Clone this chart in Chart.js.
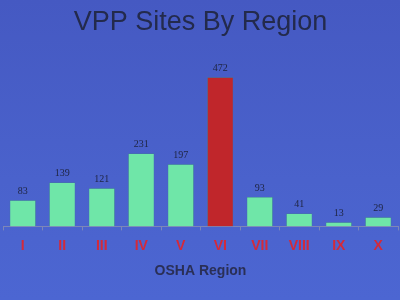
<!DOCTYPE html>
<html>
<head>
<meta charset="utf-8">
<script src="https://cdn.jsdelivr.net/npm/chart.js@4/dist/chart.umd.min.js"></script>
<style>
  html, body { margin: 0; padding: 0; }
  body { width: 400px; height: 300px; background: linear-gradient(180deg, #4559c2 0%, #4a62cc 60%, #4c66d2 100%); }
  #wrap { width: 400px; height: 300px; }
</style>
</head>
<body>
<div id="wrap"><canvas id="vpp-chart"></canvas></div>
<script>
// OSHA regions and VPP site counts
const regions = ['I', 'II', 'III', 'IV', 'V', 'VI', 'VII', 'VIII', 'IX', 'X'];
const sites = [83, 139, 121, 231, 197, 472, 93, 41, 13, 29];
const highlightRegion = 'VI';

const barColors = regions.map(r => r === highlightRegion ? '#c0262b' : '#6fe6a8');
const ctx = document.getElementById('vpp-chart');

// draws the value above each bar
const valueLabels = {
    id: 'valueLabels',
    afterDatasetsDraw(chart) {
        const c = chart.ctx;
        const meta = chart.getDatasetMeta(0);
        c.save();
        c.font = '10px "Liberation Serif", serif';
        c.fillStyle = '#1e2440';
        c.textAlign = 'center';
        c.textBaseline = 'bottom';
        meta.data.forEach((bar, i) => {
            c.fillText(sites[i], bar.x, bar.y - 4);
        });
        c.restore();
    }
};

new Chart(ctx, {
    type: 'bar',
    data: {
        labels: regions,
        datasets: [{
            label: 'VPP Sites',
            data: sites,
            backgroundColor: barColors,
            borderColor: '#3c8f70',
            borderWidth: 0.5,
            barPercentage: 0.66,
            categoryPercentage: 1
        }]
    },
    options: {
        responsive: true,
        maintainAspectRatio: false,
        animation: false,
        layout: { padding: { left: 3, right: 2, top: 0, bottom: 16 } },
        plugins: {
            legend: { display: false },
            tooltip: { enabled: false },
            title: {
                display: true,
                text: 'VPP Sites By Region',
                color: '#232a4c',
                font: { family: '"Liberation Sans", Arial, sans-serif', size: 27, weight: 'normal' },
                padding: { top: 6, bottom: 30 }
            }
        },
        scales: {
            y: {
                display: false,
                min: 0,
                max: 500
            },
            x: {
                border: { display: true, color: '#7d86b8', width: 1 },
                grid: { display: true, drawOnChartArea: false, color: '#7d86b8', tickLength: 4 },
                ticks: {
                    color: '#d42a3a',
                    padding: 7,
                    font: { family: '"Liberation Sans", Arial, sans-serif', size: 14, weight: 'bold' }
                },
                title: {
                    display: true,
                    text: 'OSHA Region',
                    color: '#2a2f56',
                    padding: { top: 2 },
                    font: { family: '"Liberation Sans", Arial, sans-serif', size: 14, weight: 'bold' }
                }
            }
        }
    },
    plugins: [valueLabels]
});
</script>
</body>
</html>
